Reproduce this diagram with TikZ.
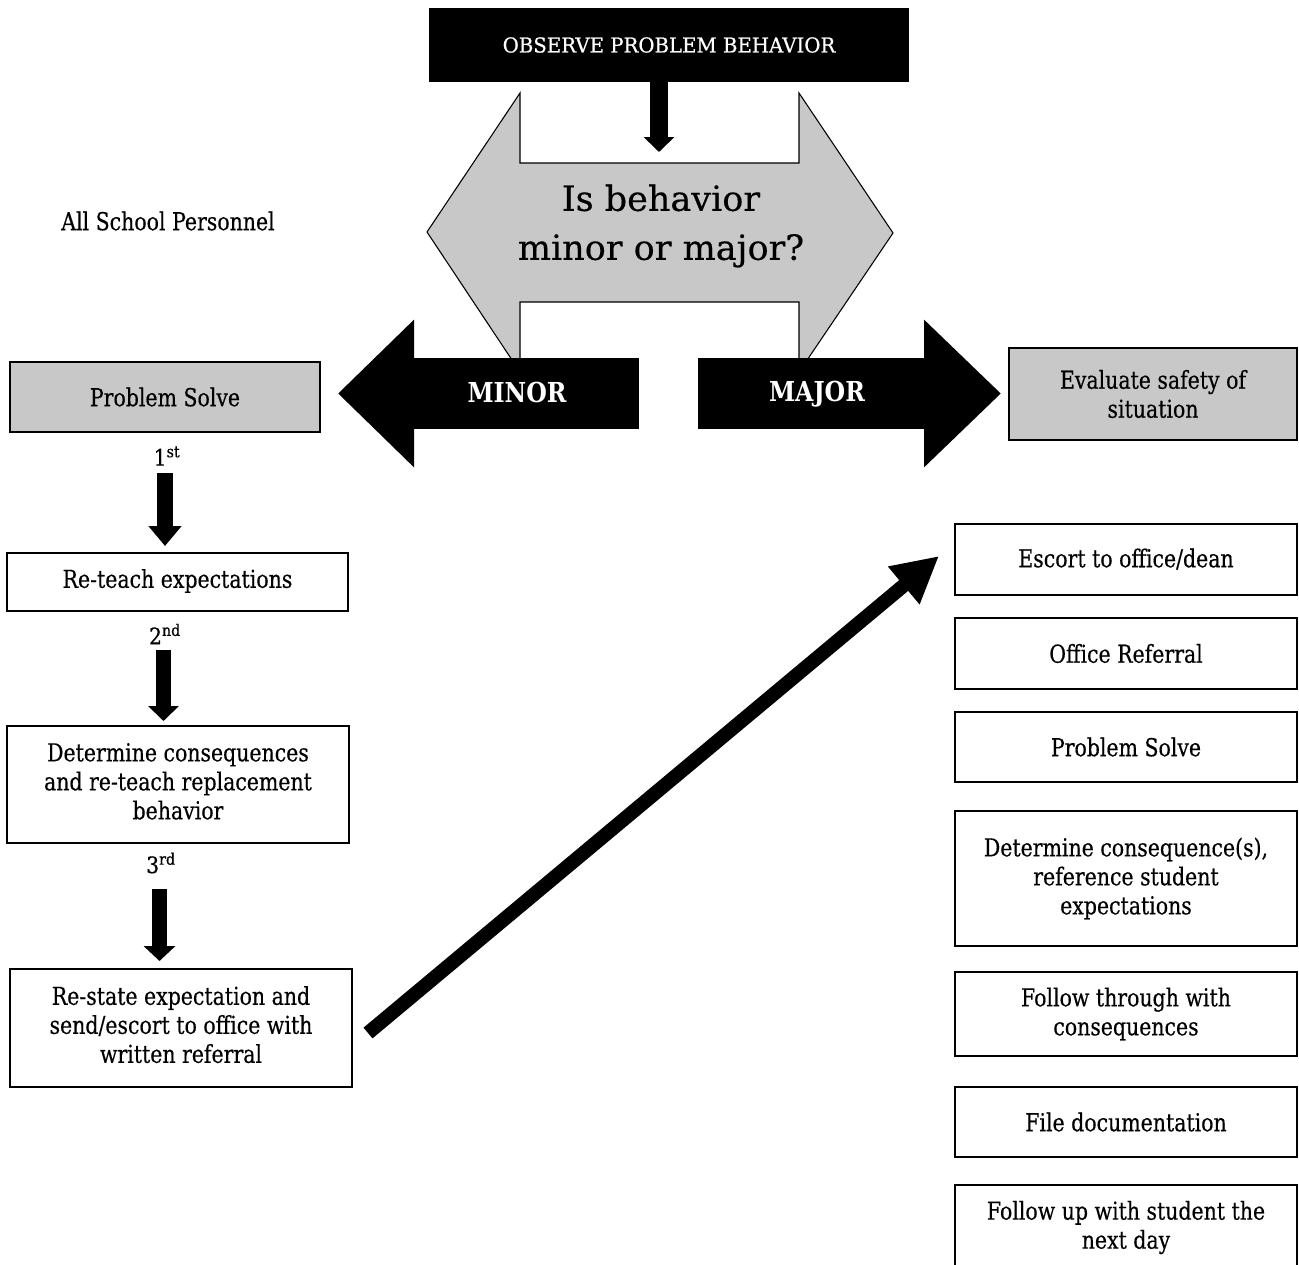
\documentclass[tikz,border=0pt]{standalone}
\usepackage{fontspec}
\setmainfont{DejaVu Serif}[FakeStretch=0.83, FakeBold=0.4]
\newfontfamily\qfont{DejaVu Serif}[FakeStretch=1.01, FakeBold=0.4]
\newfontfamily\headfont{DejaVu Serif}[FakeStretch=0.96, FakeBold=0.6]
\newfontfamily\blkfont{DejaVu Serif}[FakeStretch=0.86]
\newfontfamily\ordfont{DejaVu Serif}[FakeStretch=0.9, FakeBold=0.5]
\usetikzlibrary{arrows.meta}
\definecolor{boxgray}{RGB}{200,200,200}
\newcommand\liftlines[2]{\raisebox{#1}{\begin{tabular}{@{}c@{}}#2\end{tabular}}}
\tikzset{
  body/.style={font=\fontsize{18.5pt}{21.75pt}\selectfont, align=center, text=black},
  plainbox/.style={body, draw=black, line width=1.5pt, fill=white, inner sep=0pt,
    minimum width=#1},
  graybox/.style={body, draw=black, line width=1.5pt, fill=boxgray, inner sep=0pt,
    minimum width=#1},
  ht/.style={minimum height=#1},
  ordlabel/.style={font=\ordfont\fontsize{17pt}{20pt}\selectfont, inner sep=0pt},
  blklabel/.style={text=white, inner sep=0pt, anchor=base, font=\blkfont\bfseries\fontsize{20.6pt}{24pt}\selectfont},
}
\begin{document}
\begin{tikzpicture}[x=0.75pt,y=-0.75pt]
\useasboundingbox (0,0) rectangle (1299,1264);
\clip (0,0) rectangle (1299,1264);

% top box
\node[fill=black, text=white, minimum width=360pt, minimum height=55.5pt, inner sep=0pt,
  font=\headfont\fontsize{15.4pt}{18pt}\selectfont] (observe) at (669,45) {OBSERVE PROBLEM BEHAVIOR};

% grey double arrow
\draw[fill=boxgray, draw=black, line width=0.8pt]
  (520,93) -- (520,163) -- (799,163) -- (799,93) -- (893,233) -- (799,372) -- (799,302)
  -- (520,302) -- (520,372) -- (427,232) -- cycle;
\node[font=\qfont\fontsize{26pt}{36.75pt}\selectfont, align=center, inner sep=0pt] (question) at (661,226)
  {Is behavior\\minor or major?};
\coordinate (qtop) at (659,152);
\draw[line width=13.5pt, -{Triangle[length=11.25pt, width=22.5pt]}] (observe.south -| qtop) -- (qtop);

% side boxes
\node[graybox=232.5pt, ht=52.5pt] (ps) at (165,397) {Problem Solve};
\node[graybox=216pt, ht=69pt] (eval) at (1153,394) {Evaluate safety of\\situation};

% minor / major block arrows
\coordinate (minorstart) at (639,393.5);
\coordinate (majorstart) at (698,393.5);
\draw[line width=53.25pt, -{Triangle[length=57pt, width=107.25pt]}, shorten >=12.75pt] (minorstart) -- (minorstart -| ps.east);
\draw[line width=53.25pt, -{Triangle[length=57.75pt, width=107.25pt]}, shorten >=5.25pt] (majorstart) -- (majorstart -| eval.west);
\node[blklabel] (minor) at (517,402) {MINOR};
\node[blklabel] (major) at (817,401) {MAJOR};

% label
\node[body, inner sep=0pt] (personnel) at (168,221) {All School Personnel};

% left column
\node[ordlabel] (ord1) at (167,456) {1\textsuperscript{st}};
\node[plainbox=255.75pt, ht=43.5pt] (reteach) at (177.5,582) {\liftlines{1pt}{Re-teach expectations}};
\node[ordlabel] (ord2) at (165,634) {2\textsuperscript{nd}};
\node[plainbox=256.5pt, ht=87.75pt] (determine) at (178,784.5) {\liftlines{3pt}{Determine consequences\\and re-teach replacement\\behavior}};
\node[ordlabel] (ord3) at (161,863) {3\textsuperscript{rd}};
\node[plainbox=256.5pt, ht=88.5pt] (restate) at (181,1028) {\liftlines{4.5pt}{Re-state expectation and\\send/escort to office with\\written referral}};

\coordinate (a1) at (165,473);
\coordinate (a2) at (163.5,650);
\coordinate (a3) at (159.5,889);
\draw[line width=12pt, -{Triangle[length=15pt, width=24pt]}, shorten >=4.5pt] (a1) -- (a1 |- reteach.north);
\draw[line width=11.25pt, -{Triangle[length=11.25pt, width=22.5pt]}, shorten >=3pt] (a2) -- (a2 |- determine.north);
\draw[line width=11.25pt, -{Triangle[length=11.25pt, width=23.25pt]}, shorten >=5.25pt] (a3) -- (a3 |- restate.north);

% right column
\node[plainbox=256.5pt, ht=53.25pt] (escort) at (1126,559) {Escort to office/dean};
\node[plainbox=256.5pt, ht=53.25pt] (office) at (1126,653.5) {Office Referral};
\node[plainbox=256.5pt, ht=52.5pt] (ps2) at (1126,747) {Problem Solve};
\node[plainbox=256.5pt, ht=101.25pt] (det2) at (1126,878.5) {Determine consequence(s),\\reference student\\expectations};
\node[plainbox=256.5pt, ht=63pt] (follow) at (1126,1014) {Follow through with\\consequences};
\node[plainbox=256.5pt, ht=52.5pt] (file) at (1126,1122) {File documentation};
\node[plainbox=256.5pt, ht=63.75pt] (followup) at (1126,1227.5) {Follow up with student the\\next day};

% diagonal arrow
\draw[line width=10.5pt, -{Triangle[length=34.5pt, width=34.5pt]}]
  ([shift={(15,5)}]restate.east) -- ([shift={(-15,-3)}]escort.west);
\end{tikzpicture}
\end{document}
